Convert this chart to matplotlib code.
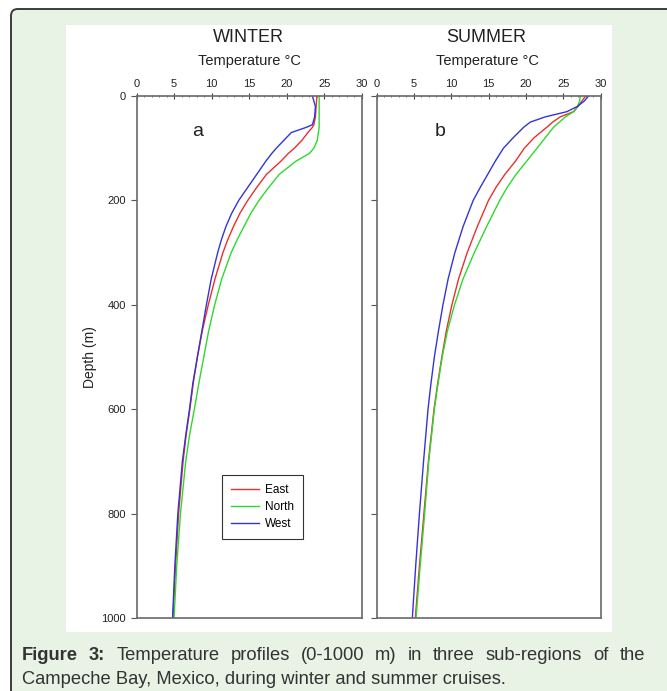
import matplotlib
matplotlib.use('Agg', force=True)

import matplotlib.pyplot as plt
from matplotlib.patches import FancyBboxPatch, Rectangle
from matplotlib.ticker import MultipleLocator

plt.rcParams['font.family'] = ['Liberation Sans', 'DejaVu Sans']

# ---- data ----
winter_depth = [0, 20, 40, 55, 60, 70, 85, 100, 110, 125, 150, 175, 200, 225, 250, 275,
                300, 350, 400, 450, 500, 550, 600, 650, 700, 800, 900, 1000]
winter_east = [24.0, 23.9, 23.8, 23.6, 23.4, 22.8, 22.0, 21.0, 20.2, 19.2, 17.3, 16.0, 14.8, 13.75, 12.9, 12.15,
               11.5, 10.45, 9.55, 8.75, 8.1, 7.55, 7.1, 6.6, 6.2, 5.6, 5.2, 4.85]
winter_north = [24.3, 24.3, 24.3, 24.3, 24.3, 24.2, 24.05, 23.6, 23.0, 21.2, 19.0, 17.6, 16.3, 15.2, 14.3, 13.4,
                12.6, 11.35, 10.4, 9.6, 8.95, 8.3, 7.7, 7.05, 6.55, 5.85, 5.35, 5.0]
winter_west = [23.4, 23.8, 23.7, 23.4, 22.6, 20.6, 19.6, 18.6, 18.0, 17.2, 16.0, 14.8, 13.6, 12.65, 11.9, 11.3,
               10.8, 9.95, 9.3, 8.7, 8.1, 7.5, 7.05, 6.55, 6.1, 5.5, 5.1, 4.8]

summer_depth = [0, 10, 20, 30, 40, 50, 60, 80, 100, 125, 150, 175, 200, 250,
                300, 350, 400, 450, 500, 550, 600, 700, 800, 900, 1000]
summer_east = [28.0, 27.5, 27.0, 26.4, 24.6, 23.6, 22.8, 21.1, 19.8, 18.6, 17.2, 16.0, 15.0, 13.5,
               12.15, 11.0, 10.1, 9.35, 8.75, 8.2, 7.7, 6.95, 6.35, 5.75, 5.2]
summer_north = [27.3, 27.2, 26.9, 26.4, 25.3, 24.5, 23.7, 22.6, 21.5, 20.1, 18.7, 17.5, 16.5, 14.75,
                13.1, 11.6, 10.45, 9.5, 8.8, 8.25, 7.75, 7.0, 6.45, 5.85, 5.3]
summer_west = [28.4, 27.8, 26.9, 25.5, 22.6, 20.6, 19.7, 18.3, 17.0, 15.9, 14.9, 13.9, 12.95, 11.6,
               10.5, 9.6, 8.9, 8.3, 7.75, 7.3, 6.9, 6.3, 5.75, 5.25, 4.8]

regions = ['East', 'North', 'West']
colors = ['#e8302c', '#2fd82f', '#3434d6']
x_ticks = [0, 5, 10, 15, 20, 25, 30]
y_ticks = [0, 200, 400, 600, 800, 1000]

W, H = 667, 691
fig = plt.figure(figsize=(W / 100, H / 100), dpi=100, facecolor='white')


def fx(px):
    return px / W


def fy(py):
    return 1 - py / H


# background frame with rounded corner + white picture area
frame = FancyBboxPatch((fx(11), fy(760)), fx(760), fy(9) - fy(760),
                       boxstyle='round,pad=0,rounding_size=0.01',
                       transform=fig.transFigure, facecolor='#e8f2e5',
                       edgecolor='#3c3c3c', lw=1.4, zorder=-2)
fig.patches.append(frame)
fig.patches.append(Rectangle((fx(66), fy(632)), fx(612) - fx(66), fy(25) - fy(632),
                             transform=fig.transFigure, facecolor='white',
                             edgecolor='none', zorder=-1))

ax1 = fig.add_axes([fx(136.5), fy(618), fx(362) - fx(136.5), fy(96) - fy(618)])
ax2 = fig.add_axes([fx(376.5), fy(618), fx(600.5) - fx(376.5), fy(96) - fy(618)])

seasons = [
    (ax1, winter_depth, [winter_east, winter_north, winter_west]),
    (ax2, summer_depth, [summer_east, summer_north, summer_west]),
]

for ax, depth, temps in seasons:
    ax.set_zorder(2)
    ax.set_facecolor('none')
    for name, t, c in zip(regions, temps, colors):
        ax.plot(t, depth, color=c, lw=1.0, label=name)
    ax.set_xlim(0, 30)
    ax.set_ylim(1000, 0)
    ax.xaxis.tick_top()
    ax.set_xticks(x_ticks)
    ax.xaxis.set_minor_locator(MultipleLocator(1))
    ax.set_yticks(y_ticks)
    ax.tick_params(axis='x', which='major', direction='inout', length=4, width=0.8,
                   labelsize=8, pad=3, colors='#444444', labelcolor='#222222')
    ax.tick_params(axis='x', which='minor', direction='inout', length=2, width=0.6,
                   colors='#555555')
    ax.tick_params(axis='y', direction='out', length=4, width=0.8, labelsize=8,
                   colors='#555555', labelcolor='#222222')
    for s in ax.spines.values():
        s.set_color('#6a6a6a')
        s.set_linewidth(1.2)

ax2.set_yticklabels([])

fig.text(fx(90), fy(357), 'Depth (m)', rotation=90, ha='center', va='center',
         fontsize=10, color='#222222')
fig.text(fx(248), fy(38), 'WINTER', ha='center', va='center', fontsize=13, color='#222222')
fig.text(fx(486), fy(38), 'SUMMER', ha='center', va='center', fontsize=13, color='#222222')
fig.text(fx(249), fy(61), 'Temperature °C', ha='center', va='center', fontsize=10.5, color='#222222')
fig.text(fx(487), fy(61), 'Temperature °C', ha='center', va='center', fontsize=10.5, color='#222222')
fig.text(fx(198), fy(131), 'a', ha='center', va='center', fontsize=14, color='#222222')
fig.text(fx(440), fy(131), 'b', ha='center', va='center', fontsize=14, color='#222222')

leg = ax1.legend(loc='upper left', bbox_to_anchor=(fx(222), fy(475)),
                 bbox_transform=fig.transFigure, borderaxespad=0, fontsize=8.5,
                 handlelength=2.4, handletextpad=0.5, labelspacing=0.45,
                 borderpad=0.75, fancybox=False, framealpha=1, edgecolor='#333333')
leg.get_frame().set_linewidth(0.8)

# justified caption
renderer = fig.canvas.get_renderer()
line1 = [('Figure', 'bold'), ('3:', 'bold'), ('Temperature', 'normal'), ('profiles', 'normal'),
         ('(0-1000', 'normal'), ('m)', 'normal'), ('in', 'normal'), ('three', 'normal'),
         ('sub-regions', 'normal'), ('of', 'normal'), ('the', 'normal')]
cap_size = 13.2
items = []
total = 0
for word, weight in line1:
    t = fig.text(0, fy(656), word, fontsize=cap_size, fontweight=weight,
                 color='#333333', va='center', ha='left')
    w = t.get_window_extent(renderer).width
    items.append((t, w))
    total += w
x0, x1 = 22, 645
gap = (x1 - x0 - total) / (len(items) - 1)
x = x0
for t, w in items:
    t.set_x(fx(x))
    x += w + gap
fig.text(fx(22), fy(679), 'Campeche Bay, Mexico, during winter and summer cruises.',
         fontsize=cap_size, color='#333333', va='center', ha='left')

fig.savefig('out.png', dpi=100)
